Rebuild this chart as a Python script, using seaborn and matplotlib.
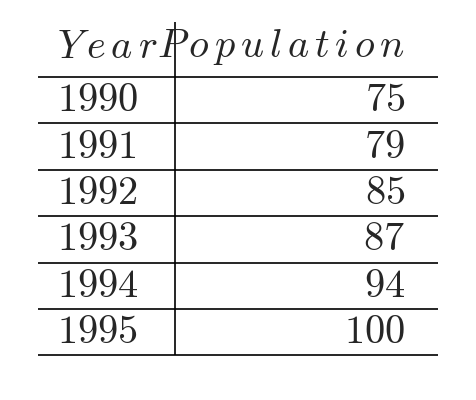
import matplotlib
matplotlib.use("Agg")
import matplotlib.pyplot as plt
import seaborn as sns

years = [1990, 1991, 1992, 1993, 1994, 1995]
population = [75, 79, 85, 87, 94, 100]
headers = ["Year", "Population"]

sns.set_theme(style="white")
plt.rcParams["mathtext.fontset"] = "cm"

fig = plt.figure(figsize=(4.77, 4.0), dpi=100)
ax = fig.add_axes([0, 0, 1, 1])
ax.set_xlim(0, 477)
ax.set_ylim(400, 0)
ax.axis("off")

fs = 29
top = 77
row_h = 46.4
ax.text(57, 47, r"$Y\,e\,a\,r$", ha="left", va="center", fontsize=fs)
ax.text(405, 47, r"$P\,o\,p\,u\,l\,a\,t\,i\,o\,n$", ha="right", va="center", fontsize=fs)
for i, (y, p) in enumerate(zip(years, population)):
    yc = top + row_h * (i + 0.5)
    ax.text(57, yc, f"${y}$", ha="left", va="center", fontsize=fs)
    ax.text(405, yc, f"${p}$", ha="right", va="center", fontsize=fs)
for i in range(len(years) + 1):
    ax.hlines(top + row_h * i, 38, 438, color="black", lw=1.2)
ax.vlines(175, 22, top + row_h * len(years), color="black", lw=1.2)

fig.savefig("out.png", dpi=100)
